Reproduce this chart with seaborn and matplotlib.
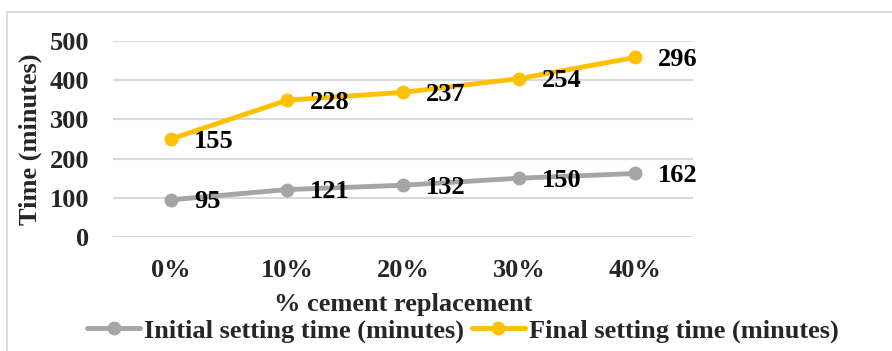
import numpy as np
import pandas as pd
import matplotlib
matplotlib.use("Agg")
import matplotlib.pyplot as plt
import seaborn as sns
from matplotlib.patches import Rectangle

# Setting-time data
categories = ["0%", "10%", "20%", "30%", "40%"]
initial_setting = [95, 121, 132, 150, 162]
final_setting = [155, 228, 237, 254, 296]
series_names = ["Initial setting time (minutes)", "Final setting time (minutes)"]
y_ticks = [0, 100, 200, 300, 400, 500]

GRAY = "#A5A5A5"
GOLD = "#FFC000"
FS = 19

sns.set_theme(style="white")
plt.rcParams["font.family"] = ["Liberation Serif", "DejaVu Serif"]
plt.rcParams["font.weight"] = "bold"

# stacked line chart: the final series sits on top of the initial one
initial = np.array(initial_setting)
final_stacked = initial + np.array(final_setting)
df = pd.DataFrame({
    "x": list(range(len(categories))) * 2,
    "value": list(initial) + list(final_stacked),
    "label": initial_setting + final_setting,
    "series": [series_names[0]] * len(categories) + [series_names[1]] * len(categories),
})

fig = plt.figure(figsize=(8.92, 3.51), dpi=100)
W, H = 892, 351
ax = fig.add_axes([113 / W, (H - 237) / H, 580 / W, 196 / H])

fig.patches.append(Rectangle((7 / W, -0.1), 1.2, (H - 12) / H + 0.1,
                             transform=fig.transFigure, fill=False,
                             edgecolor="#D9D9D9", linewidth=1.2, zorder=0))

palette = {series_names[0]: GRAY, series_names[1]: GOLD}
sns.lineplot(data=df, x="x", y="value", hue="series", palette=palette,
             marker="o", markersize=10, markeredgewidth=0, linewidth=3.5,
             legend=False, ax=ax, zorder=3)

for _, row in df.iterrows():
    ax.annotate(f"{row['label']}", (row["x"], row["value"]),
                xytext=(16.5, -1.5), textcoords="offset points",
                ha="left", va="center", fontsize=FS, fontweight="bold",
                color="black", zorder=4)

ax.set_xlim(-0.5, len(categories) - 0.5)
ax.set_ylim(0, 500)
ax.set_yticks(y_ticks)
ax.set_xticks(range(len(categories)))
ax.set_xticklabels(categories)
ax.grid(axis="y", color="#D9D9D9", linewidth=1.5)
ax.grid(axis="x", visible=False)
for s in ax.spines.values():
    s.set_visible(False)
ax.tick_params(axis="y", length=0, pad=17, labelsize=FS)
ax.tick_params(axis="x", length=0, pad=16, labelsize=FS)
for lbl in ax.get_xticklabels() + ax.get_yticklabels():
    lbl.set_fontweight("bold")

ax.set_xlabel("% cement replacement", fontsize=FS, fontweight="bold", labelpad=8)
ax.set_ylabel("Time (minutes)", fontsize=FS, fontweight="bold", labelpad=6)

handles = [plt.Line2D([], [], color=GRAY, linewidth=3.5, marker="o",
                      markersize=10, markeredgewidth=0),
           plt.Line2D([], [], color=GOLD, linewidth=3.5, marker="o",
                      markersize=10, markeredgewidth=0)]
fig.legend(handles, series_names, loc="center", bbox_to_anchor=(463 / W, (H - 331) / H),
           ncol=2, frameon=False, handlelength=2.0, handletextpad=0.15,
           columnspacing=0.3, prop={"size": FS, "weight": "bold"})

fig.savefig("out.png", dpi=100)
